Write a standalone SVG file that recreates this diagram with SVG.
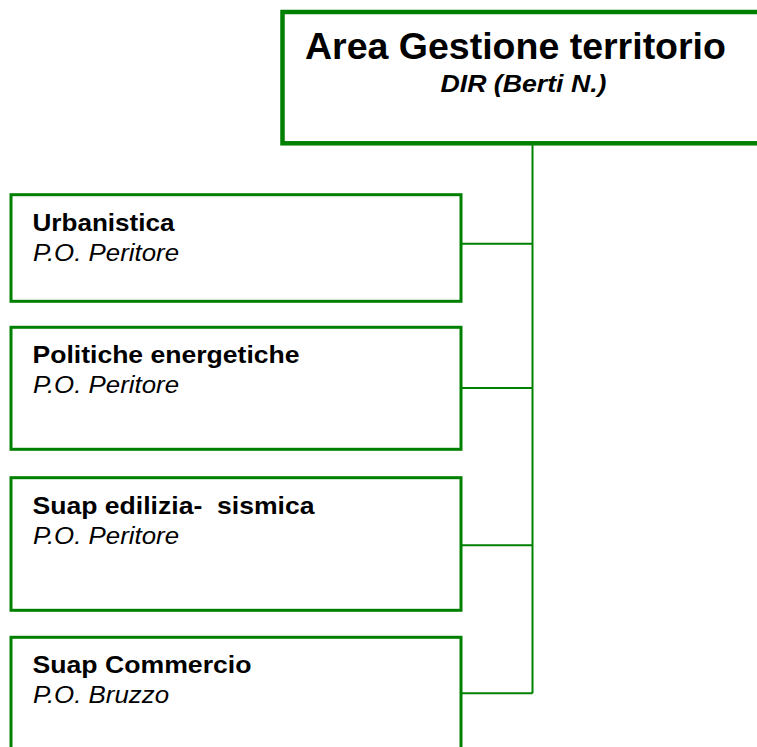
<svg xmlns="http://www.w3.org/2000/svg" width="757" height="747" viewBox="0 0 757 747">
<style>
.bx{fill:#fff;stroke:#008000;stroke-width:3}
.top{fill:#fff;stroke:#008000;stroke-width:4.5}
.cn{fill:none;stroke:#008000;stroke-width:2}
text{font-family:"Liberation Sans",Arial,sans-serif;fill:#000}
.b{font-weight:bold;font-size:24px}
.i{font-style:italic;font-size:24px}
.t{font-weight:bold;font-size:37.5px}
.d{font-weight:bold;font-style:italic;font-size:24.5px}
.pre{white-space:pre}
</style>
<rect width="757" height="747" fill="#fff"/>
<g id="connectors">
<path class="cn" d="M532.5,145 V693.3 M460,243.7 H532.5 M460,388 H532.5 M460,545.3 H532.5 M460,693.3 H532.5"/>
</g>
<g id="area">
<rect class="top" x="282.5" y="12" width="500" height="131.3"/>
<text class="t" x="305" y="59.3">Area Gestione territorio</text>
<text class="d" x="440.5" y="92.3" textLength="166" lengthAdjust="spacingAndGlyphs">DIR (Berti N.)</text>
</g>
<g id="urbanistica">
<rect class="bx" x="11" y="194.7" width="450" height="106.6"/>
<text class="b" x="32.5" y="230.5" textLength="142" lengthAdjust="spacingAndGlyphs">Urbanistica</text>
<text class="i" x="33" y="260.5" textLength="146" lengthAdjust="spacingAndGlyphs">P.O. Peritore</text>
</g>
<g id="politiche">
<rect class="bx" x="11" y="327.3" width="450" height="122"/>
<text class="b" x="32.5" y="363.3" textLength="267" lengthAdjust="spacingAndGlyphs">Politiche energetiche</text>
<text class="i" x="33" y="393.3" textLength="146" lengthAdjust="spacingAndGlyphs">P.O. Peritore</text>
</g>
<g id="suap-edilizia">
<rect class="bx" x="11" y="477.7" width="450" height="132.6"/>
<text class="b pre" xml:space="preserve" x="32.5" y="513.7" textLength="282" lengthAdjust="spacingAndGlyphs">Suap edilizia-  sismica</text>
<text class="i" x="33" y="543.7" textLength="146" lengthAdjust="spacingAndGlyphs">P.O. Peritore</text>
</g>
<g id="suap-commercio">
<rect class="bx" x="11" y="637.3" width="450" height="200"/>
<text class="b" x="32.5" y="672.8" textLength="219" lengthAdjust="spacingAndGlyphs">Suap Commercio</text>
<text class="i" x="33" y="702.8" textLength="136" lengthAdjust="spacingAndGlyphs">P.O. Bruzzo</text>
</g>
</svg>
